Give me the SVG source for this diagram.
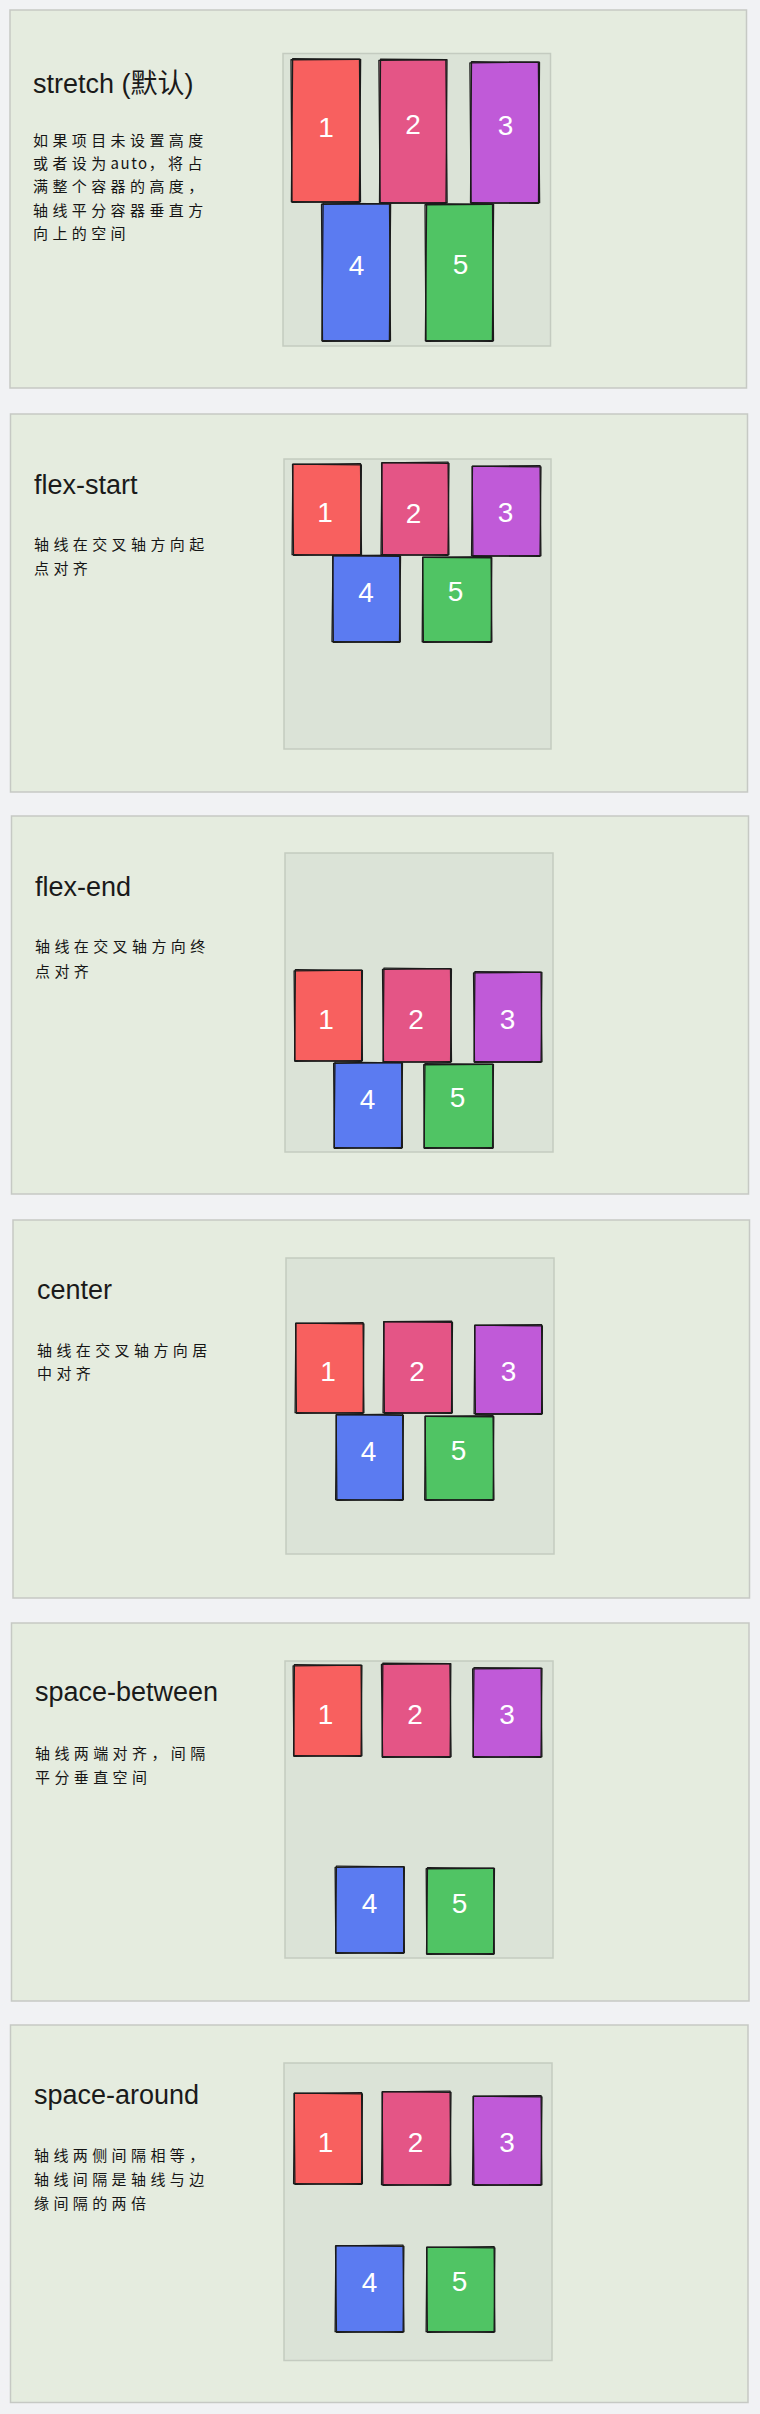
<svg xmlns="http://www.w3.org/2000/svg" width="760" height="2414" viewBox="0 0 760 2414">
<style>
.bg{fill:#f1f2f4}
.panel{fill:#e5ecdf;stroke:#c6c9c4;stroke-width:1.5}
.cont{fill:#dbe3d7;stroke:#c4cbc0;stroke-width:1.5}
.title{font-family:"Liberation Sans","Noto Sans CJK SC",sans-serif;font-size:27px;fill:#1a1a1a}
.desc{font-family:"Noto Sans CJK SC",sans-serif;font-size:15px;letter-spacing:4.4px;fill:#151515}
.lat{letter-spacing:1.5px}
.num{font-family:"Liberation Sans",sans-serif;font-size:28px;fill:#fff;text-anchor:middle}
.sk{fill:none;stroke:#1b1b1b;stroke-width:1.3;stroke-linejoin:round}
.c1{fill:#f8605f}
.c2{fill:#e45586}
.c3{fill:#c05ad8}
.c4{fill:#5b7bf1}
.c5{fill:#50c464}
</style>
<rect class="bg" x="0" y="0" width="760" height="2414"/>

<g id="panel-stretch">
<rect class="panel" x="10" y="10" width="736.5" height="378"/>
<text class="title" x="33" y="93">stretch (默认)</text>
<text class="desc" x="33" y="146">如果项目未设置高度</text>
<text class="desc" x="33" y="169">或者设为<tspan class="lat">auto</tspan>，将占</text>
<text class="desc" x="33" y="192">满整个容器的高度，</text>
<text class="desc" x="33" y="216">轴线平分容器垂直方</text>
<text class="desc" x="33" y="239">向上的空间</text>
<rect class="cont" x="283" y="53.5" width="267.5" height="292.5"/>
<g id="p1-item1"><rect class="c1" x="292" y="59" width="68" height="143"/><rect class="sk" x="292" y="59" width="68" height="143" transform="rotate(0.5 326 130.5)"/><rect class="sk" x="291.5" y="59.5" width="68.5" height="142.5" transform="rotate(-0.4 326 130.5)"/><text class="num" x="326" y="137">1</text></g>
<g id="p1-item2"><rect class="c2" x="379.5" y="60" width="67" height="143"/><rect class="sk" x="379.5" y="60" width="67" height="143" transform="rotate(-0.5 413 131.5)"/><rect class="sk" x="380" y="59.5" width="66.5" height="143.5" transform="rotate(0.4 413 131.5)"/><text class="num" x="413" y="134">2</text></g>
<g id="p1-item3"><rect class="c3" x="471" y="62" width="68" height="141"/><rect class="sk" x="471" y="62" width="68" height="141" transform="rotate(0.4 505 132.5)"/><rect class="sk" x="470.5" y="62.5" width="68.5" height="140.5" transform="rotate(-0.5 505 132.5)"/><text class="num" x="505.5" y="135">3</text></g>
<g id="p1-item4"><rect class="c4" x="322" y="204" width="68" height="137"/><rect class="sk" x="322" y="204" width="68" height="137" transform="rotate(-0.4 356 272.5)"/><rect class="sk" x="322.5" y="203.5" width="67.5" height="137.5" transform="rotate(0.5 356 272.5)"/><text class="num" x="356.5" y="275">4</text></g>
<g id="p1-item5"><rect class="c5" x="426" y="204" width="67" height="137"/><rect class="sk" x="426" y="204" width="67" height="137" transform="rotate(0.5 459.5 272.5)"/><rect class="sk" x="425.5" y="204.5" width="67.5" height="136.5" transform="rotate(-0.4 459.5 272.5)"/><text class="num" x="460.5" y="274">5</text></g>
</g>

<g id="panel-flex-start">
<rect class="panel" x="10.5" y="414" width="737" height="378"/>
<text class="title" x="34" y="494">flex-start</text>
<text class="desc" x="34" y="550">轴线在交叉轴方向起</text>
<text class="desc" x="34" y="574">点对齐</text>
<rect class="cont" x="284" y="459" width="267" height="290"/>
<g id="p2-item1"><rect class="c1" x="293" y="464" width="68" height="91"/><rect class="sk" x="293" y="464" width="68" height="91" transform="rotate(-0.6 327 509.5)"/><rect class="sk" x="292.5" y="464.5" width="68.5" height="90.5" transform="rotate(0.5 327 509.5)"/><text class="num" x="325" y="522">1</text></g>
<g id="p2-item2"><rect class="c2" x="381.5" y="463" width="67" height="92"/><rect class="sk" x="381.5" y="463" width="67" height="92" transform="rotate(0.6 415 509)"/><rect class="sk" x="382" y="462.5" width="66.5" height="92.5" transform="rotate(-0.5 415 509)"/><text class="num" x="413.5" y="523">2</text></g>
<g id="p2-item3"><rect class="c3" x="472.5" y="466" width="68" height="90"/><rect class="sk" x="472.5" y="466" width="68" height="90" transform="rotate(-0.5 506.5 511)"/><rect class="sk" x="472" y="466.5" width="68.5" height="89.5" transform="rotate(0.6 506.5 511)"/><text class="num" x="505.5" y="522">3</text></g>
<g id="p2-item4"><rect class="c4" x="332.5" y="556" width="67.5" height="86"/><rect class="sk" x="332.5" y="556" width="67.5" height="86" transform="rotate(0.7 366 599)"/><rect class="sk" x="333" y="555.5" width="67" height="86.5" transform="rotate(-0.4 366 599)"/><text class="num" x="366" y="602">4</text></g>
<g id="p2-item5"><rect class="c5" x="423" y="557" width="68.5" height="85"/><rect class="sk" x="423" y="557" width="68.5" height="85" transform="rotate(-0.5 457 599.5)"/><rect class="sk" x="422.5" y="557.5" width="69" height="84.5" transform="rotate(0.4 457 599.5)"/><text class="num" x="455.5" y="601">5</text></g>
</g>

<g id="panel-flex-end">
<rect class="panel" x="11.5" y="816" width="737" height="378"/>
<text class="title" x="35" y="896">flex-end</text>
<text class="desc" x="35" y="952">轴线在交叉轴方向终</text>
<text class="desc" x="35" y="977">点对齐</text>
<rect class="cont" x="285" y="853" width="268" height="299"/>
<g id="p3-item1"><rect class="c1" x="295" y="970" width="67" height="91"/><rect class="sk" x="295" y="970" width="67" height="91" transform="rotate(0.5 328.5 1015.5)"/><rect class="sk" x="294.5" y="970.5" width="67.5" height="90.5" transform="rotate(-0.5 328.5 1015.5)"/><text class="num" x="326" y="1029">1</text></g>
<g id="p3-item2"><rect class="c2" x="383" y="969" width="68" height="93"/><rect class="sk" x="383" y="969" width="68" height="93" transform="rotate(-0.6 417 1015.5)"/><rect class="sk" x="383.5" y="968.5" width="67.5" height="93.5" transform="rotate(0.5 417 1015.5)"/><text class="num" x="416" y="1029">2</text></g>
<g id="p3-item3"><rect class="c3" x="474.5" y="972" width="67" height="90"/><rect class="sk" x="474.5" y="972" width="67" height="90" transform="rotate(0.5 508 1017)"/><rect class="sk" x="474" y="972.5" width="67.5" height="89.5" transform="rotate(-0.6 508 1017)"/><text class="num" x="507.5" y="1029">3</text></g>
<g id="p3-item4"><rect class="c4" x="334" y="1063" width="68" height="85"/><rect class="sk" x="334" y="1063" width="68" height="85" transform="rotate(-0.5 368 1105.5)"/><rect class="sk" x="334.5" y="1062.5" width="67.5" height="85.5" transform="rotate(0.6 368 1105.5)"/><text class="num" x="367.5" y="1109">4</text></g>
<g id="p3-item5"><rect class="c5" x="424.5" y="1064" width="68.5" height="84"/><rect class="sk" x="424.5" y="1064" width="68.5" height="84" transform="rotate(0.6 458.5 1106)"/><rect class="sk" x="424" y="1064.5" width="69" height="83.5" transform="rotate(-0.4 458.5 1106)"/><text class="num" x="457.5" y="1107">5</text></g>
</g>

<g id="panel-center">
<rect class="panel" x="13" y="1220" width="736.5" height="378"/>
<text class="title" x="37" y="1299">center</text>
<text class="desc" x="37" y="1356">轴线在交叉轴方向居</text>
<text class="desc" x="37" y="1379">中对齐</text>
<rect class="cont" x="286" y="1258" width="268" height="296"/>
<g id="p4-item1"><rect class="c1" x="296" y="1323" width="67.5" height="90"/><rect class="sk" x="296" y="1323" width="67.5" height="90" transform="rotate(-0.5 330 1368)"/><rect class="sk" x="295.5" y="1323.5" width="68" height="89.5" transform="rotate(0.5 330 1368)"/><text class="num" x="328" y="1381">1</text></g>
<g id="p4-item2"><rect class="c2" x="383.5" y="1322" width="68.5" height="91"/><rect class="sk" x="383.5" y="1322" width="68.5" height="91" transform="rotate(0.6 418 1367.5)"/><rect class="sk" x="384" y="1321.5" width="68" height="91.5" transform="rotate(-0.4 418 1367.5)"/><text class="num" x="417" y="1381">2</text></g>
<g id="p4-item3"><rect class="c3" x="475" y="1325" width="67" height="89"/><rect class="sk" x="475" y="1325" width="67" height="89" transform="rotate(-0.5 508.5 1369.5)"/><rect class="sk" x="474.5" y="1325.5" width="67.5" height="88.5" transform="rotate(0.5 508.5 1369.5)"/><text class="num" x="508.5" y="1381">3</text></g>
<g id="p4-item4"><rect class="c4" x="336" y="1415" width="67" height="85"/><rect class="sk" x="336" y="1415" width="67" height="85" transform="rotate(0.5 369.5 1457.5)"/><rect class="sk" x="336.5" y="1414.5" width="66.5" height="85.5" transform="rotate(-0.5 369.5 1457.5)"/><text class="num" x="368.5" y="1461">4</text></g>
<g id="p4-item5"><rect class="c5" x="425.5" y="1416" width="68" height="84"/><rect class="sk" x="425.5" y="1416" width="68" height="84" transform="rotate(-0.6 459.5 1458)"/><rect class="sk" x="425" y="1416.5" width="68.5" height="83.5" transform="rotate(0.4 459.5 1458)"/><text class="num" x="458.5" y="1460">5</text></g>
</g>

<g id="panel-space-between">
<rect class="panel" x="11.5" y="1623" width="737.5" height="378"/>
<text class="title" x="35" y="1701">space-between</text>
<text class="desc" x="35" y="1759">轴线两端对齐，间隔</text>
<text class="desc" x="35" y="1783">平分垂直空间</text>
<rect class="cont" x="285" y="1661" width="268" height="297"/>
<g id="p5-item1"><rect class="c1" x="294" y="1665" width="67.5" height="91"/><rect class="sk" x="294" y="1665" width="67.5" height="91" transform="rotate(0.5 328 1710.5)"/><rect class="sk" x="293.5" y="1665.5" width="68" height="90.5" transform="rotate(-0.5 328 1710.5)"/><text class="num" x="325.5" y="1724">1</text></g>
<g id="p5-item2"><rect class="c2" x="382" y="1664" width="68.5" height="93"/><rect class="sk" x="382" y="1664" width="68.5" height="93" transform="rotate(-0.7 416 1710.5)"/><rect class="sk" x="382.5" y="1663.5" width="68" height="93.5" transform="rotate(0.4 416 1710.5)"/><text class="num" x="415" y="1724">2</text></g>
<g id="p5-item3"><rect class="c3" x="473.5" y="1668" width="68" height="89"/><rect class="sk" x="473.5" y="1668" width="68" height="89" transform="rotate(0.6 507.5 1712.5)"/><rect class="sk" x="473" y="1668.5" width="68.5" height="88.5" transform="rotate(-0.5 507.5 1712.5)"/><text class="num" x="507" y="1724">3</text></g>
<g id="p5-item4"><rect class="c4" x="335.5" y="1867" width="68.5" height="86"/><rect class="sk" x="335.5" y="1867" width="68.5" height="86" transform="rotate(-0.5 370 1910)"/><rect class="sk" x="336" y="1866.5" width="68" height="86.5" transform="rotate(0.5 370 1910)"/><text class="num" x="369.5" y="1913">4</text></g>
<g id="p5-item5"><rect class="c5" x="427" y="1868" width="67" height="86"/><rect class="sk" x="427" y="1868" width="67" height="86" transform="rotate(0.6 460.5 1911)"/><rect class="sk" x="426.5" y="1868.5" width="67.5" height="85.5" transform="rotate(-0.4 460.5 1911)"/><text class="num" x="459.5" y="1913">5</text></g>
</g>

<g id="panel-space-around">
<rect class="panel" x="10.5" y="2025" width="737.5" height="377.5"/>
<text class="title" x="34" y="2104">space-around</text>
<text class="desc" x="34" y="2161">轴线两侧间隔相等，</text>
<text class="desc" x="34" y="2185">轴线间隔是轴线与边</text>
<text class="desc" x="34" y="2209">缘间隔的两倍</text>
<rect class="cont" x="284" y="2063" width="268" height="297.5"/>
<g id="p6-item1"><rect class="c1" x="294.5" y="2093" width="67.5" height="91"/><rect class="sk" x="294.5" y="2093" width="67.5" height="91" transform="rotate(-0.5 328 2138.5)"/><rect class="sk" x="294" y="2093.5" width="68" height="90.5" transform="rotate(0.5 328 2138.5)"/><text class="num" x="325.5" y="2152">1</text></g>
<g id="p6-item2"><rect class="c2" x="382" y="2092" width="68.5" height="93"/><rect class="sk" x="382" y="2092" width="68.5" height="93" transform="rotate(0.6 416 2138.5)"/><rect class="sk" x="382.5" y="2091.5" width="68" height="93.5" transform="rotate(-0.5 416 2138.5)"/><text class="num" x="415.5" y="2152">2</text></g>
<g id="p6-item3"><rect class="c3" x="473.5" y="2096" width="68" height="89"/><rect class="sk" x="473.5" y="2096" width="68" height="89" transform="rotate(-0.5 507.5 2140.5)"/><rect class="sk" x="473" y="2096.5" width="68.5" height="88.5" transform="rotate(0.6 507.5 2140.5)"/><text class="num" x="507" y="2152">3</text></g>
<g id="p6-item4"><rect class="c4" x="335.5" y="2246" width="68" height="86"/><rect class="sk" x="335.5" y="2246" width="68" height="86" transform="rotate(0.5 369.5 2289)"/><rect class="sk" x="336" y="2245.5" width="67.5" height="86.5" transform="rotate(-0.6 369.5 2289)"/><text class="num" x="369.5" y="2292">4</text></g>
<g id="p6-item5"><rect class="c5" x="427" y="2247" width="67.5" height="85"/><rect class="sk" x="427" y="2247" width="67.5" height="85" transform="rotate(-0.5 461 2289.5)"/><rect class="sk" x="426.5" y="2247.5" width="68" height="84.5" transform="rotate(0.5 461 2289.5)"/><text class="num" x="459.5" y="2291">5</text></g>
</g>
</svg>
